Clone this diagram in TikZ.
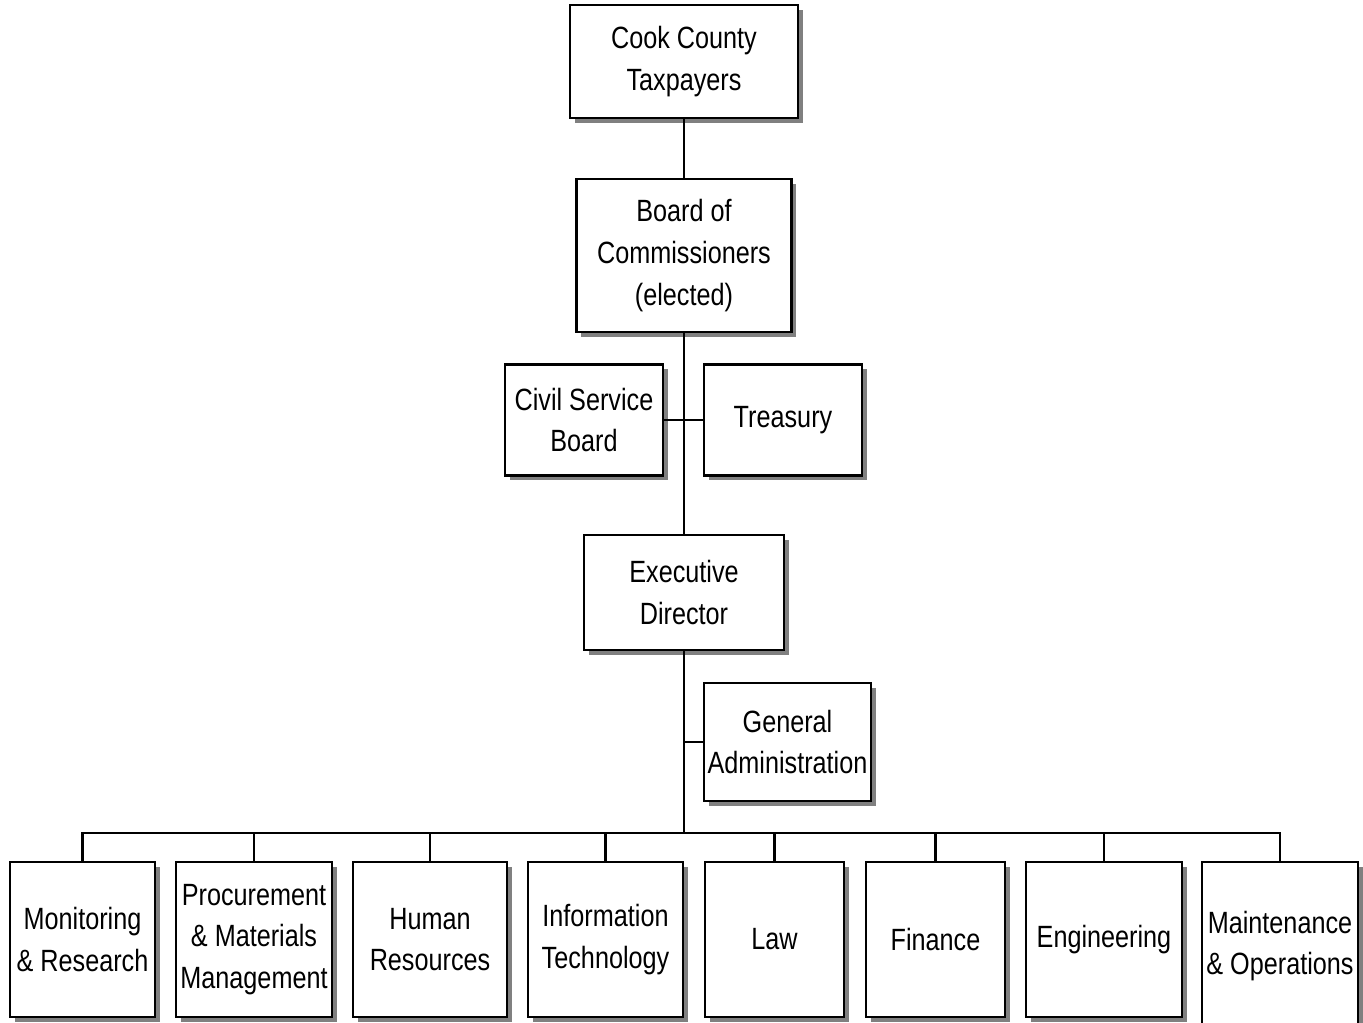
\documentclass[tikz,border=0pt]{standalone}
\usepackage{fontspec}
\setmainfont{Liberation Sans}[FakeStretch=0.82]
\usetikzlibrary{shadows}
\begin{document}
\begin{tikzpicture}[x=0.02cm,y=-0.02cm,
  box/.style={draw=black, line width=1.25pt, fill=white, rectangle, inner sep=0pt, align=center,
    font=\fontsize{17.5pt}{23.8pt}\selectfont,
    drop shadow={shadow xshift=0.095cm, shadow yshift=-0.095cm, fill=black!50, opacity=1}},
  link/.style={draw=black, line width=1.25pt}]
\useasboundingbox (0,0) rectangle (1363,1023);
% nodes
\node[box, minimum width=4.56cm, minimum height=2.26cm] (tax) at (684,61.5) {Cook County\\Taxpayers};
\node[box, minimum width=4.30cm, minimum height=3.06cm] (board) at (684,255.5) {Board of\\Commissioners\\(elected)};
\node[box, minimum width=3.16cm, minimum height=2.22cm] (civil) at (584,420) {Civil Service\\Board};
\node[box, minimum width=3.16cm, minimum height=2.22cm] (treas) at (783,420) {Treasury};
\node[box, minimum width=4.00cm, minimum height=2.30cm] (exec) at (684,592.5) {Executive\\Director};
\node[box, minimum width=3.34cm, minimum height=2.36cm] (ga) at (787.5,742) {General\\Administration};
\node[box, minimum width=2.90cm, minimum height=3.10cm] (mon) at (82.5,939.5) {Monitoring\\\& Research};
\node[box, minimum width=3.12cm, minimum height=3.10cm] (proc) at (254,939.5) {Procurement\\\& Materials\\Management};
\node[box, minimum width=3.08cm, minimum height=3.10cm] (hr) at (430,939.5) {Human\\Resources};
\node[box, minimum width=3.10cm, minimum height=3.10cm] (it) at (605.5,939.5) {Information\\Technology};
\node[box, minimum width=2.78cm, minimum height=3.10cm] (law) at (774.5,939.5) {Law};
\node[box, minimum width=2.78cm, minimum height=3.10cm] (fin) at (935.5,939.5) {Finance};
\node[box, minimum width=3.12cm, minimum height=3.10cm] (eng) at (1104,939.5) {Engineering};
\node[box, minimum width=3.12cm, minimum height=3.36cm] (maint) at (1280,946) {Maintenance\\\& Operations};
% connectors
\coordinate (bus) at (exec.south |- 0,833);
\coordinate (gaj) at (exec.south |- ga.west);
\path[link] (tax.south) -- (board.north);
\path[link] (board.south) -- (exec.north);
\path[link] (civil.east) -- (treas.west);
\path[link] (exec.south) -- (bus);
\path[link] (gaj) -- (ga.west);
\path[link] (bus) -| (mon.north);
\path[link] (bus) -| (maint.north);
\path[link] (bus) -| (proc.north);
\path[link] (bus) -| (hr.north);
\path[link] (bus) -| (it.north);
\path[link] (bus) -| (law.north);
\path[link] (bus) -| (fin.north);
\path[link] (bus) -| (eng.north);
\end{tikzpicture}
\end{document}
